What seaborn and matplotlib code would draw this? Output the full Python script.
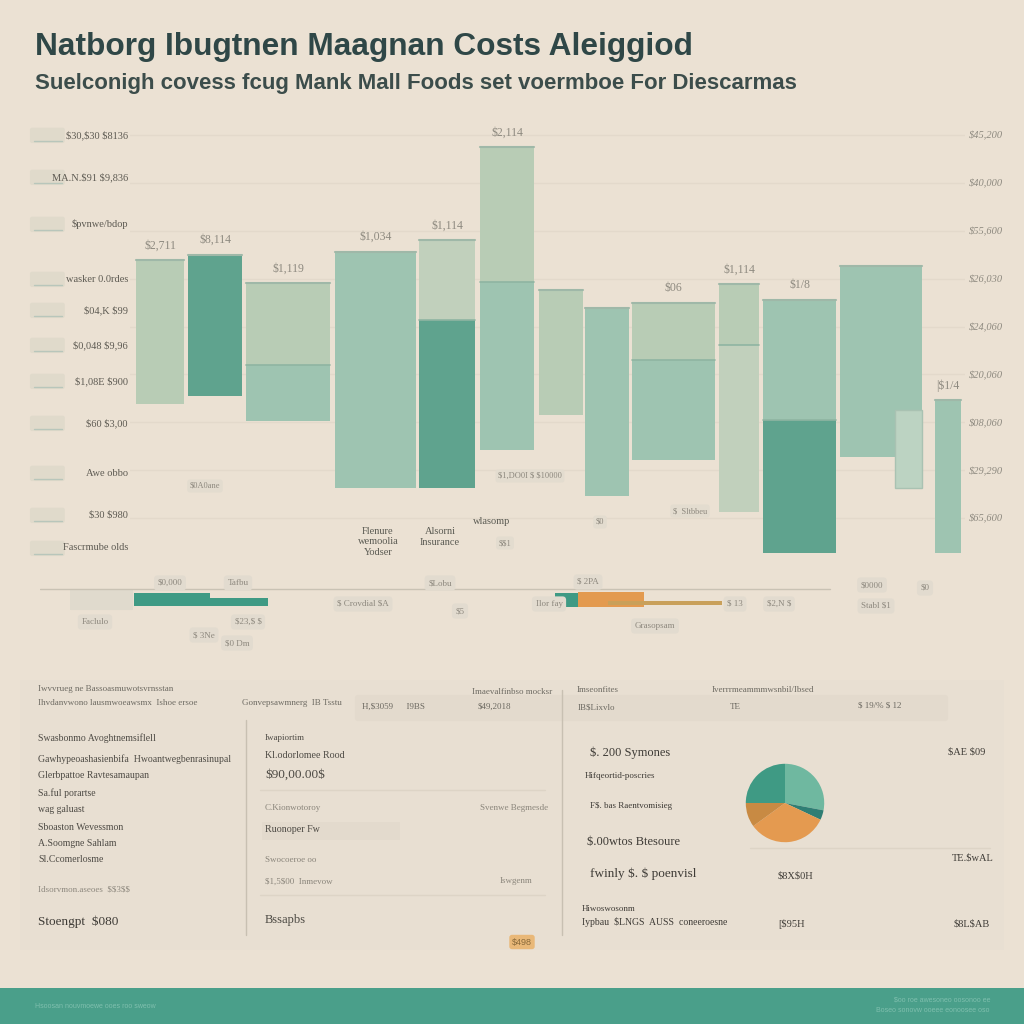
import numpy as np
import pandas as pd
import matplotlib
matplotlib.use("Agg")
import matplotlib.pyplot as plt
import seaborn as sns
from matplotlib.patches import FancyBboxPatch, Rectangle

# ----------------------------
# Daten (aus dem Bild geschaetzt)
# ----------------------------
title = "Natborg Ibugtnen Maagnan Costs Aleiggiod"
subtitle = "Suelconigh covess fcug Mank Mall Foods set voermboe For Diescarmas"

bar_names = ["A", "B", "C", "D", "E", "F", "G", "H", "I", "J", "K", "L", "M"]
bar_low = [169000, 178000, 151000, 81000, 81000, 121000, 158000, 73000, 111000, 56000, 14000, 114000, 14000]
bar_mid = [169000, 178000, 210000, 81000, 257000, 296000, 158000, 73000, 215000, 231000, 152000, 114000, 14000]
bar_high = [319000, 325000, 295000, 328000, 340000, 437000, 288000, 269000, 275000, 294000, 278000, 313000, 173000]
bar_top_labels = ["$2,711", "$8,114", "$1,119", "$1,034", "$1,114", "$2,114", "", "", "$06", "$1,114", "$1/8", "", "|$1/4"]

# kleiner ueberlagerter Balken in "L"
overlay_low = 81000
overlay_high = 163000

y_ticks = [50000, 100000, 150000, 200000, 250000, 300000, 350000, 400000, 450000]
y_tick_labels = ["$65,600", "$29,290", "$08,060", "$20,060", "$24,060", "$26,030", "$55,600", "$40,000", "$45,200"]

left_labels = ["$30,$30 $8136", "MA.N.$91 $9,836", "$pvnwe/bdop", "wasker 0.0rdes", "$04,K $99",
               "$0,048 $9,96", "$1,08E $900", "$60 $3,00", "Awe obbo", "$30 $980", "Fascrmube olds"]

under_labels = ["Flenure\nwemoolia\nYodser", "Alsorni\nInsurance", "wlasomp"]

# Streifen (Einheit: 1 = 100 px Breite)
strip_start = [1.34, 2.10, 5.55, 5.78]
strip_end = [2.10, 2.68, 5.78, 6.44]
strip_tail_start = 6.08
strip_tail_end = 7.22

pie_values = [28, 4, 33, 10, 25]

left_panel_lines = ["Swasbonmo Avoghtnemsiflell", "Gawhypeoashasienbifa  Hwoantwegbenrasinupal",
                    "Glerbpattoe Ravtesamaupan", "Sa.ful porartse", "wag galuast",
                    "Sboaston Wevessmon", "A.Soomgne Sahlam", "Sl.Ccomerlosme"]
mid_panel_lines = ["Iwapiortim", "Kl.odorlomee Rood", "$90,00.00$", "Ruonoper Fw", "Bssapbs"]
right_panel_lines = ["$. 200 Symones", "Hifqeortid-poscries", "F$. bas Raentvomisieg",
                     "$.00wtos Btesoure", "fwinly $. $ poenvisl", "Iypbau  $LNGS  AUSS  coneeroesne"]

# ----------------------------
# Stil
# ----------------------------
sns.set_theme(style="white")
plt.rcParams["font.family"] = ["Liberation Sans", "DejaVu Sans"]
plt.rcParams["text.parse_math"] = False

bg = "#ebe1d3"
teal = "#5fa38e"
mint = "#9ec4b1"
light = "#b8ccb5"
pale = "#c1d0bc"
orange = "#e39a4f"
textc = "#2f4747"
serif = ["Liberation Serif", "DejaVu Serif"]

low_colors = [light, teal, mint, mint, teal, mint, light, mint, mint, pale, teal, mint, mint]
up_colors = [light, teal, light, mint, pale, light, light, mint, light, light, mint, mint, mint]

# Layout in Pixel-Koordinaten (nicht Daten)
bar_left = [136, 188, 246, 335, 419, 480, 539, 585, 632, 719, 763, 840, 935]
bar_right = [184, 242, 330, 416, 475, 534, 583, 629, 715, 759, 836, 922, 961]

W = 1024
fig = plt.figure(figsize=(10.24, 10.24), dpi=100, facecolor=bg)


def rect(x0, y0, x1, y1):
    return [x0 / W, 1 - y1 / W, (x1 - x0) / W, (y1 - y0) / W]


def fx(x):
    return x / W


def fy(y):
    return 1 - y / W


fig.text(fx(35), fy(47), title, fontsize=22.8, fontweight="bold", color=textc, va="center")
fig.text(fx(35), fy(84), subtitle, fontsize=16, fontweight="bold", color="#3c4d4b", va="center")

# ----------------------------
# Hauptdiagramm (schwebende Balken)
# ----------------------------
ax = fig.add_axes(rect(130, 100, 965, 566))
ax.set_facecolor(bg)
ax.set_xlim(130, 965)
ax.set_ylim(0, 486500)
for t in y_ticks:
    ax.axhline(t, color="#e3d9cb", lw=1, zorder=0)

df = pd.DataFrame({"name": bar_names, "low": bar_low, "mid": bar_mid, "high": bar_high})
for i, row in df.iterrows():
    x0, x1 = bar_left[i], bar_right[i]
    ax.bar(x0, row["mid"] - row["low"], width=x1 - x0, bottom=row["low"], align="edge",
           color=low_colors[i], edgecolor="none", lw=0, zorder=2)
    ax.bar(x0, row["high"] - row["mid"], width=x1 - x0, bottom=row["mid"], align="edge",
           color=up_colors[i], edgecolor="none", lw=0, zorder=2)
    if row["mid"] > row["low"] and row["mid"] < row["high"]:
        ax.plot([x0, x1], [row["mid"], row["mid"]], color="#8fb5a2", lw=1.2, zorder=3)
    ax.plot([x0, x1], [row["high"], row["high"]], color="#9fb8a8", lw=1.5, zorder=3)
    if bar_top_labels[i]:
        ax.text((x0 + x1) / 2, row["high"] + 9000, bar_top_labels[i], ha="center", va="bottom",
                fontsize=8.5, color="#8e8a80", family=serif)

# ueberlagerter Balken
ax.bar(895, overlay_high - overlay_low, width=27, bottom=overlay_low, align="edge",
       color="#bcd3c2", edgecolor="#a9c2b2", lw=1, zorder=4)

ax.yaxis.tick_right()
ax.set_yticks(y_ticks)
ax.set_yticklabels(y_tick_labels, fontsize=7.5, color="#8e8a80", style="italic", family=serif)
ax.tick_params(axis="y", length=0, pad=3)
ax.set_xticks([])
sns.despine(ax=ax, left=True, bottom=True, right=True, top=True)

# kleine Textfelder unter den Balken
for txt, (x, y) in zip(under_labels, [(378, 542), (440, 537), (492, 521)]):
    fig.text(fx(x), fy(y), txt, ha="center", va="center", fontsize=7.5, color="#5a5a52",
             family=serif, linespacing=1.15)
for x, y, s in [(205, 486, "$0A0ane"), (530, 476, "$1,DO0I $ $10000"), (690, 511, "$  Sltbbeu"),
                (600, 522, "$0"), (505, 543, "$$1")]:
    fig.text(fx(x), fy(y), s, ha="center", va="center", fontsize=6, color="#8d887e", family=serif,
             bbox=dict(boxstyle="round,pad=0.3", fc="#e3dccf", ec="none"))

# linke Beschriftungen mit Pillen
left_y = [135, 177, 224, 279, 310, 345, 381, 423, 473, 515, 548]
for lab, y in zip(left_labels, left_y):
    fig.text(fx(128), fy(y), lab, ha="right", va="center", fontsize=7.5, color="#5d5a52", family=serif)
    fig.patches.append(FancyBboxPatch((fx(32), fy(y + 6)), 0.03, 0.011,
                                      boxstyle="round,pad=0.002", transform=fig.transFigure,
                                      facecolor="#e0dacb", edgecolor="none"))
    fig.add_artist(plt.Line2D([fx(34), fx(62)], [fy(y + 6), fy(y + 6)], transform=fig.transFigure,
                              color="#b8c6bb", lw=1))

# ----------------------------
# Mittlerer Streifen
# ----------------------------
ax2 = fig.add_axes(rect(40, 570, 1000, 660))
ax2.set_facecolor(bg)
ax2.set_xlim(0.4, 10.0)
ax2.set_ylim(660, 570)
ax2.axis("off")
ax2.plot([0.4, 8.3], [589, 589], color="#c9c2b4", lw=1)
bar_kw = dict(edgecolor="none", linewidth=0)
ax2.barh([599.5], [strip_end[0] - strip_start[0]], left=[strip_start[0]], height=13, color="#3f9a84", **bar_kw)
ax2.barh([602], [strip_end[1] - strip_start[1]], left=[strip_start[1]], height=8, color="#3f9a84", **bar_kw)
ax2.barh([600], [strip_end[2] - strip_start[2]], left=[strip_start[2]], height=14, color="#3f9a84", **bar_kw)
ax2.barh([599.5], [strip_end[3] - strip_start[3]], left=[strip_start[3]], height=15, color=orange, **bar_kw)
ax2.barh([603], [strip_tail_end - strip_tail_start], left=[strip_tail_start], height=4, color="#c9a05a", **bar_kw)
ax2.add_patch(FancyBboxPatch((0.72, 589), 0.59, 21, boxstyle="round,pad=0.02,rounding_size=0.05",
                             fc="#e0dacd", ec="none", zorder=0))
for (x, y, s) in [(3.63, 604, "$ Crovdial $A"), (4.6, 611, "$5"), (5.49, 604, "Ilor fay"),
                  (7.35, 604, "$ 13"), (7.79, 604, "$2,N $"), (8.76, 606, "Stabl $1"),
                  (2.48, 622, "$23,$ $"), (0.95, 622, "Faclulo"), (2.37, 643, "$0 Dm"),
                  (2.04, 635, "$ 3Ne"), (6.55, 626, "Grasopsam"), (1.70, 583, "$0,000"),
                  (2.38, 583, "Tafbu"), (4.40, 583, "$Lobu"), (5.88, 582, "$ 2PA"),
                  (8.72, 585, "$0000"), (9.25, 588, "$0")]:
    ax2.text(x, y, s, ha="center", va="center", fontsize=6.5, color="#8d887e", family=serif,
             bbox=dict(boxstyle="round,pad=0.4", fc="#e2dbcf", ec="none"))

# ----------------------------
# Unteres Panel
# ----------------------------
fig.patches.append(Rectangle((fx(20), fy(950)), (1004 - 20) / W, (950 - 680) / W,
                             transform=fig.transFigure, facecolor="#e8dfd2", edgecolor="none", zorder=0))
fig.patches.append(FancyBboxPatch((fx(358), fy(718)), (945 - 358) / W, 20 / W,
                                  boxstyle="round,pad=0.003", transform=fig.transFigure,
                                  facecolor="#e3dacd", edgecolor="none"))
fig.patches.append(Rectangle((fx(262), fy(840)), (400 - 262) / W, 18 / W, transform=fig.transFigure,
                             facecolor="#e3dacd", edgecolor="none"))
fig.add_artist(plt.Line2D([fx(246), fx(246)], [fy(720), fy(935)], transform=fig.transFigure, color="#c8c0b2", lw=1))
fig.add_artist(plt.Line2D([fx(562), fx(562)], [fy(690), fy(935)], transform=fig.transFigure, color="#c8c0b2", lw=1))
fig.add_artist(plt.Line2D([fx(260), fx(545)], [fy(790), fy(790)], transform=fig.transFigure, color="#ddd4c6", lw=1))
fig.add_artist(plt.Line2D([fx(260), fx(545)], [fy(895), fy(895)], transform=fig.transFigure, color="#ddd4c6", lw=1))
fig.add_artist(plt.Line2D([fx(750), fx(990)], [fy(848), fy(848)], transform=fig.transFigure, color="#ddd4c6", lw=1))

top_row = [(38, 689, "Iwvvrueg ne Bassoasmuwotsvrnsstan"), (38, 703, "Ihvdanvwono lausmwoeawsmx  Ishoe ersoe"),
           (242, 703, "Gonvepsawmnerg  IB Tsstu"), (472, 692, "Imaevalfinbso mocksr"),
           (362, 707, "H,$3059      I9BS"), (478, 707, "$49,2018"), (577, 690, "Imseonfites"),
           (712, 690, "Iverrrmeammmwsnbil/Ibsed"), (578, 707, "IB$Lixvlo"), (730, 707, "TE"),
           (858, 705, "$ 19/% $ 12")]
for x, y, s in top_row:
    fig.text(fx(x), fy(y), s, fontsize=6.5, color="#6d6a62", va="center", family=serif)

left_offsets = [0, 21, 37, 55, 72, 89, 105, 121]
for s, dy in zip(left_panel_lines, left_offsets):
    fig.text(fx(38), fy(738 + dy), s, fontsize=7, color="#4d4a44", va="center", family=serif)
fig.text(fx(38), fy(889), "Idsorvmon.aseoes  $$3$$", fontsize=6.5, color="#8d887e", va="center", family=serif)
fig.text(fx(38), fy(922), "Stoengpt  $080", fontsize=9.5, color="#3e3b36", va="center", family=serif)

for (y, s, fs) in [(738, mid_panel_lines[0], 6.5), (755, mid_panel_lines[1], 7.2), (775, mid_panel_lines[2], 9.5),
                   (830, mid_panel_lines[3], 7.2), (920, mid_panel_lines[4], 9)]:
    fig.text(fx(265), fy(y), s, fontsize=fs, color="#4d4a44", va="center", family=serif)
for (x, y, s) in [(265, 808, "C.Kionwotoroy"), (480, 808, "Svenwe Begmesde"), (265, 860, "Swocoeroe oo"),
                  (265, 882, "$1,5$00  Inmevow"), (500, 881, "Iswgenm")]:
    fig.text(fx(x), fy(y), s, fontsize=6.5, color="#8a857b", va="center", family=serif)
fig.text(fx(522), fy(942), "$498", fontsize=6.5, color="#8a6a3a", ha="center", va="center",
         bbox=dict(boxstyle="round,pad=0.3", fc="#e9b878", ec="none"))

for (x, y, s, fs) in [(590, 753, right_panel_lines[0], 9), (585, 776, right_panel_lines[1], 6.5),
                      (590, 806, right_panel_lines[2], 6.5), (587, 842, right_panel_lines[3], 9),
                      (590, 874, right_panel_lines[4], 9.5), (582, 922, right_panel_lines[5], 7),
                      (582, 909, "Hiwoswosonm", 6.5), (948, 752, "$AE $09", 7.5), (952, 858, "TE.$wAL", 7.5),
                      (778, 876, "$8X$0H", 7.5), (778, 924, "[$95H", 7.5), (954, 924, "$8L$AB", 7.5)]:
    fig.text(fx(x), fy(y), s, fontsize=fs, color="#3e3b36", va="center", family=serif)

# Kreisdiagramm
ax3 = fig.add_axes(rect(745, 763, 825, 843))
ax3.set_zorder(5)
ax3.patch.set_alpha(0)
ax3.pie(pie_values, colors=["#6fb8a0", "#2f7e74", "#e49a50", "#c88a43", "#3f9a84"], startangle=90,
        counterclock=False, wedgeprops=dict(linewidth=0))
ax3.set_xlim(-1.02, 1.02)
ax3.set_ylim(-1.02, 1.02)
ax3.set_aspect("equal")

# Teal-Band unten
fig.patches.append(Rectangle((0, 0), 1, (1024 - 988) / W, transform=fig.transFigure,
                             facecolor="#4a9f8a", edgecolor="none"))
fig.text(fx(35), fy(1006), "Hsoosan nouvmoewe ooes roo sweow", fontsize=5, color="#7fbfae", va="center")
fig.text(fx(990), fy(1000), "$oo roe awesoneo oosonoo ee", fontsize=5, color="#7fbfae", va="center", ha="right")
fig.text(fx(990), fy(1011), "Boseo sonovw ooeee eonoosee oso", fontsize=5, color="#7fbfae", va="center", ha="right")

fig.savefig("out.png", dpi=100, facecolor=bg)
